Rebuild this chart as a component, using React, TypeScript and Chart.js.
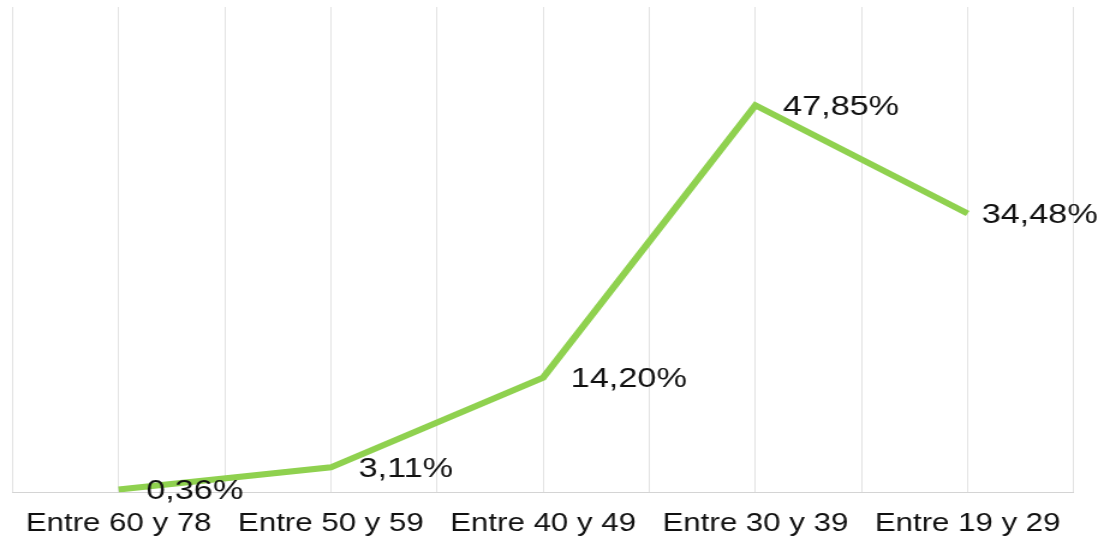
import React, { useEffect, useRef } from "react";
import { Chart, registerables } from "chart.js";

Chart.register(...registerables);

const categories: string[] = ["Entre 60 y 78", "Entre 50 y 59", "Entre 40 y 49", "Entre 30 y 39", "Entre 19 y 29"];
const percentages: number[] = [0.36, 3.11, 14.2, 47.85, 34.48];
const yMin = 0;
const yMax = 60;

const STRETCH = 1.2;
const CANVAS_W = 1099 / STRETCH;
const CANVAS_H = 538;

const formatPct = (v: number) => v.toFixed(2).replace(".", ",") + "%";

const dataLabelPlugin = {
  id: "pctLabels",
  afterDatasetsDraw(chart: any) {
    const ctx = chart.ctx;
    const meta = chart.getDatasetMeta(0);
    ctx.save();
    ctx.font = "28.5px Arial, 'Liberation Sans', sans-serif";
    ctx.fillStyle = "#111";
    ctx.textAlign = "left";
    ctx.textBaseline = "middle";
    meta.data.forEach((pt: any, i: number) => {
      const text = formatPct(percentages[i]);
      const w = ctx.measureText(text).width;
      let x = pt.x + 23;
      if (x + w > chart.width - 2) x = chart.width - 2 - w;
      ctx.fillText(text, x, pt.y + 1.5);
    });
    ctx.restore();
  },
};

export default function App() {
  const canvasRef = useRef<HTMLCanvasElement | null>(null);

  useEffect(() => {
    if (!canvasRef.current) return;
    const chart = new Chart(canvasRef.current, {
      type: "line",
      data: {
        datasets: [
          {
            data: percentages.map((v, i) => ({ x: i, y: v })),
            borderColor: "#8fd14f",
            borderWidth: 6,
            pointRadius: 0,
            tension: 0,
            fill: false,
          },
        ],
      },
      options: {
        animation: false,
        responsive: true,
        maintainAspectRatio: false,
        layout: { padding: { left: 10.4, right: 22, top: 7, bottom: 0 } },
        plugins: { legend: { display: false }, tooltip: { enabled: false } },
        scales: {
          x: {
            type: "linear",
            min: -0.5,
            max: categories.length - 0.5,
            afterBuildTicks: (axis: any) => {
              const ticks = [];
              for (let v = -0.5; v <= categories.length - 0.5 + 1e-9; v += 0.5) ticks.push({ value: v });
              axis.ticks = ticks;
            },
            afterFit: (axis: any) => {
              axis.height = 45.5;
              axis.paddingLeft = 0;
              axis.paddingRight = 0;
            },
            ticks: {
              autoSkip: false,
              maxRotation: 0,
              padding: 16,
              color: "#111",
              font: { size: 26, family: "Arial, 'Liberation Sans', sans-serif" },
              callback: (v: any) => {
                const n = Number(v);
                return Number.isInteger(n) && categories[n] !== undefined ? categories[n] : "";
              },
            },
            grid: { color: "#e3e3e3", lineWidth: 1, drawTicks: false },
            border: { display: true, color: "#d4d4d4", width: 1 },
          },
          y: {
            display: false,
            min: yMin,
            max: yMax,
          },
        },
      },
      plugins: [dataLabelPlugin],
    });
    return () => chart.destroy();
  }, []);

  return (
    <div
      style={{
        position: "absolute",
        left: 0,
        top: 0,
        width: CANVAS_W + "px",
        height: CANVAS_H + "px",
        transform: `scaleX(${STRETCH})`,
        transformOrigin: "0 0",
      }}
    >
      <canvas ref={canvasRef} />
    </div>
  );
}
